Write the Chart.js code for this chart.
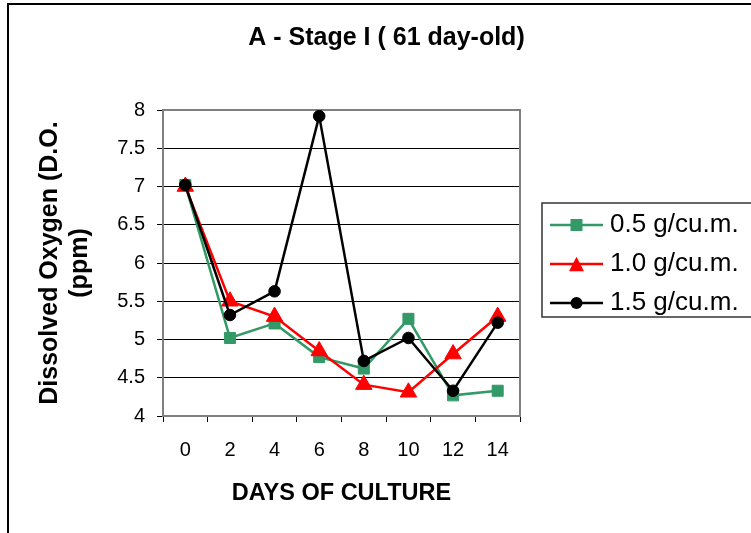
<!DOCTYPE html>
<html>
<head>
<meta charset="utf-8">
<title>Dissolved oxygen - Stage I</title>
<script src="https://cdn.jsdelivr.net/npm/chart.js@4/dist/chart.umd.min.js"></script>
<style>
  html, body { margin: 0; padding: 0; background: #ffffff; }
  canvas { display: block; }
</style>
</head>
<body>
<canvas id="doChart" width="751" height="533"></canvas>
<script>
// Days of culture (categories)
const days = ['0', '2', '4', '6', '8', '10', '12', '14'];

// Dissolved oxygen (ppm) per stocking rate
const rate05 = [7.02, 5.02, 5.21, 4.77, 4.62, 5.27, 4.27, 4.33];
const rate10 = [7.00, 5.50, 5.30, 4.85, 4.41, 4.31, 4.81, 5.30];
const rate15 = [7.02, 5.32, 5.63, 7.92, 4.72, 5.02, 4.33, 5.22];

const seriesNames = ['0.5 g/cu.m.', '1.0 g/cu.m.', '1.5 g/cu.m.'];

// Value axis ticks
const yTickValues = [4, 4.5, 5, 5.5, 6, 6.5, 7, 7.5, 8];
const yTickLabels = ['4', '4.5', '5', '5.5', '6', '6.5', '7', '7.5', '8'];

const FONT = "'Liberation Sans', Arial, Helvetica, sans-serif";
const GREEN = '#339966';
const RED = '#ff0000';
const BLACK = '#000000';

// Legend swatch: a short line with the series marker on it
function legendSwatch(color, shape) {
  const c = document.createElement('canvas');
  c.width = 76; c.height = 22;
  const g = c.getContext('2d');
  const cy = 11, x0 = 23, x1 = 76, cx = 49.5;
  g.strokeStyle = color; g.lineWidth = 2.5;
  g.beginPath(); g.moveTo(x0, cy); g.lineTo(x1, cy); g.stroke();
  g.fillStyle = color;
  g.beginPath();
  if (shape === 'rect') {
    g.rect(cx - 6, cy - 6, 12, 12);
  } else if (shape === 'triangle') {
    g.moveTo(cx, cy - 7.3); g.lineTo(cx + 7.5, cy + 7.3); g.lineTo(cx - 7.5, cy + 7.3); g.closePath();
  } else {
    g.arc(cx, cy, 6, 0, Math.PI * 2);
  }
  g.fill();
  return c;
}

const swatches = [
  legendSwatch(GREEN, 'rect'),
  legendSwatch(RED, 'triangle'),
  legendSwatch(BLACK, 'circle')
];

// Frames: outer chart border, plot-area border, legend box.
// The title is centred over the whole chart width (plot + legend),
// and the legend box runs on to the right edge of the canvas.
const frames = {
  id: 'frames',
  afterLayout(chart) {
    const t = chart.titleBlock;
    if (t) { t.left = 22; t.right = chart.width; }
    const lg = chart.legend;
    if (lg) { lg.right = chart.width; lg.width = lg.right - lg.left; }
  },
  beforeDraw(chart) {
    const ctx = chart.ctx;
    ctx.save();
    ctx.strokeStyle = '#000000';
    ctx.lineWidth = 2;
    ctx.strokeRect(8, 4, 900, 700);
    ctx.restore();
  },
  beforeDatasetsDraw(chart) {
    const a = chart.chartArea;
    const ctx = chart.ctx;
    ctx.save();
    ctx.strokeStyle = '#808080';
    ctx.lineWidth = 2;
    ctx.strokeRect(a.left, a.top, a.right - a.left, a.bottom - a.top);
    ctx.restore();
  },
  afterDraw(chart) {
    const lg = chart.legend;
    const ctx = chart.ctx;
    ctx.save();
    ctx.strokeStyle = '#333333';
    ctx.lineWidth = 1.5;
    ctx.strokeRect(lg.left + 22, 203, 300, 114);
    ctx.restore();
  }
};

const datasets = [
  {
    label: seriesNames[0], data: rate05,
    borderColor: GREEN, backgroundColor: GREEN,
    pointStyle: 'rect', pointRadius: 7.8, pointBorderWidth: 1,
    pointBackgroundColor: GREEN, pointBorderColor: GREEN,
    borderWidth: 2.5, tension: 0, fill: false, order: 3
  },
  {
    label: seriesNames[1], data: rate10,
    borderColor: RED, backgroundColor: RED,
    pointStyle: 'triangle', pointRadius: 9.5, pointBorderWidth: 1,
    pointBackgroundColor: RED, pointBorderColor: RED,
    borderWidth: 2.5, tension: 0, fill: false, order: 2
  },
  {
    label: seriesNames[2], data: rate15,
    borderColor: BLACK, backgroundColor: BLACK,
    pointStyle: 'circle', pointRadius: 5.8, pointBorderWidth: 1,
    pointBackgroundColor: BLACK, pointBorderColor: BLACK,
    borderWidth: 2.5, tension: 0, fill: false, order: 1
  }
];

new Chart(document.getElementById('doChart'), {
  type: 'line',
  data: { labels: days, datasets: datasets },
  options: {
    responsive: false,
    animation: false,
    devicePixelRatio: 1,
    events: [],
    layout: { padding: { left: 22, right: 65, top: 0, bottom: 5 } },
    plugins: {
      title: {
        display: true,
        text: 'A - Stage I ( 61 day-old)',
        color: '#000000',
        font: { family: FONT, size: 25, weight: 'bold', lineHeight: 1.2 },
        padding: { top: 22.7, bottom: 57.3 }
      },
      legend: {
        display: true,
        position: 'right',
        align: 'center',
        labels: {
          color: '#000000',
          font: { family: FONT, size: 26 },
          padding: 13,
          usePointStyle: true,
          pointStyleWidth: 64,
          generateLabels(chart) {
            return chart.data.datasets.map((ds, i) => ({
              text: ds.label,
              fillStyle: ds.borderColor,
              strokeStyle: ds.borderColor,
              lineWidth: 0,
              pointStyle: swatches[i],
              hidden: false,
              datasetIndex: i
            }));
          }
        }
      },
      tooltip: { enabled: false }
    },
    scales: {
      x: {
        type: 'category',
        offset: true,
        afterFit(scale) { scale.height = 112; },
        grid: {
          display: true,
          offset: true,
          drawOnChartArea: false,
          drawTicks: true,
          tickLength: 6,
          color: '#000000',
          lineWidth: 1
        },
        border: { display: true, color: '#808080', width: 2 },
        ticks: {
          color: '#000000',
          font: { family: FONT, size: 20 },
          padding: 16,
          maxRotation: 0,
          autoSkip: false
        },
        title: {
          display: true,
          text: 'DAYS OF CULTURE',
          color: '#000000',
          font: { family: FONT, size: 23.5, weight: 'bold', lineHeight: 1.2 },
          padding: { top: 0, bottom: 20.3 }
        }
      },
      y: {
        type: 'linear',
        min: 4,
        max: 8,
        afterFit(scale) { scale.width = 141; },
        afterBuildTicks(scale) {
          scale.ticks = yTickValues.map(v => ({ value: v }));
        },
        grid: {
          display: true,
          drawOnChartArea: true,
          drawTicks: true,
          tickLength: 6,
          color: '#000000',
          lineWidth: 1
        },
        border: { display: true, color: '#808080', width: 2 },
        ticks: {
          color: '#000000',
          font: { family: FONT, size: 20 },
          padding: 12,
          callback(value) {
            const i = yTickValues.indexOf(value);
            return i >= 0 ? yTickLabels[i] : '';
          }
        },
        title: {
          display: true,
          text: ['Dissolved Oxygen (D.O.', '(ppm)'],
          color: '#000000',
          font: { family: FONT, size: 25, weight: 'bold', lineHeight: 1.2 },
          padding: { top: 13.6, bottom: 0 }
        }
      }
    }
  },
  plugins: [frames]
});
</script>
</body>
</html>
